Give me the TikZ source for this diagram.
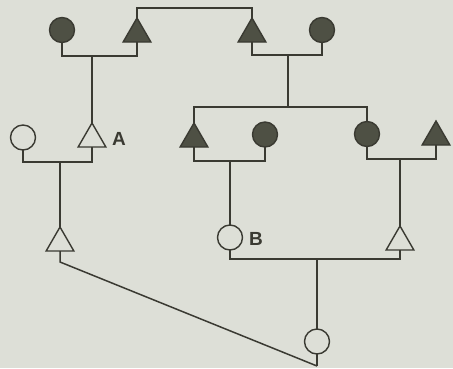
\documentclass[tikz,border=0pt]{standalone}
\usepackage{fontspec}
\setmainfont{Liberation Sans}
\usetikzlibrary{shapes.geometric}
\definecolor{bg}{RGB}{221,223,215}
\definecolor{ink}{RGB}{58,58,50}
\definecolor{dark}{RGB}{78,80,68}
\tikzset{
  fem/.style={circle, draw=ink, line width=1.4pt, minimum size=25pt, inner sep=0pt, outer sep=0pt, fill=bg},
  femA/.style={fem, fill=dark},
  mal/.style={regular polygon, regular polygon sides=3, draw=ink, line width=1.4pt, minimum size=32pt, inner sep=0pt, outer sep=0pt, anchor=north, fill=bg},
  malA/.style={mal, fill=dark},
  link/.style={draw=ink, line width=1.5pt},
  lbl/.style={font=\bfseries\fontsize{19}{19}\selectfont, text=ink, inner sep=0pt}
}
\begin{document}
\begin{tikzpicture}[x=1pt,y=-1pt]
\useasboundingbox[fill=bg] (0,0) rectangle (453,368);
% top generation
\node[femA] (c1) at (62,30) {};
\node[malA] (t1) at (137,18) {};
\node[malA] (t2) at (252,18) {};
\node[femA] (c2) at (322,30) {};
% second generation
\node[fem] (co1) at (23,137.5) {};
\node[mal] (tA) at (92,123) {};
\node[lbl] (A) at (119,139) {A};
\node[malA] (t3) at (194,123) {};
\node[femA] (c3) at (265,134.5) {};
\node[femA] (c4) at (367,134) {};
\node[malA] (t4) at (436,121) {};
% third generation
\node[mal] (tL) at (60,227) {};
\node[fem] (cB) at (230,237.5) {};
\node[lbl] (B) at (256,239) {B};
\node[mal] (tR) at (400,226) {};
% bottom
\node[fem] (cb) at (317,341.5) {};
\coordinate (end) at (317,366);
% connectors
\draw[link] (t1.north) -- (137,8) -- (252,8) -- (t2.north);
\draw[link] (c1.south) |- (92,56) -| (t1.south);
\draw[link] (92,56) -- (tA.north);
\draw[link] (t2.south) |- (288,55) -| (c2.south);
\draw[link] (288,55) -- (288,107);
\draw[link] (t3.north) |- (288,107) -| (c4.north);
\draw[link] (co1.south) |- (60,162) -| (tA.south);
\draw[link] (60,162) -- (tL.north);
\draw[link] (t3.south) |- (230,161) -| (c3.south);
\draw[link] (230,161) -- (cB.north);
\draw[link] (c4.south) |- (400,159) -| (t4.south);
\draw[link] (400,159) -- (tR.north);
\draw[link] (cB.south) |- (317,259) -| (tR.south);
\draw[link] (317,259) -- (cb.north);
\draw[link] (tL.south) -- (60,262) -- (end);
\draw[link] (cb.south) -- (end);
\end{tikzpicture}
\end{document}
